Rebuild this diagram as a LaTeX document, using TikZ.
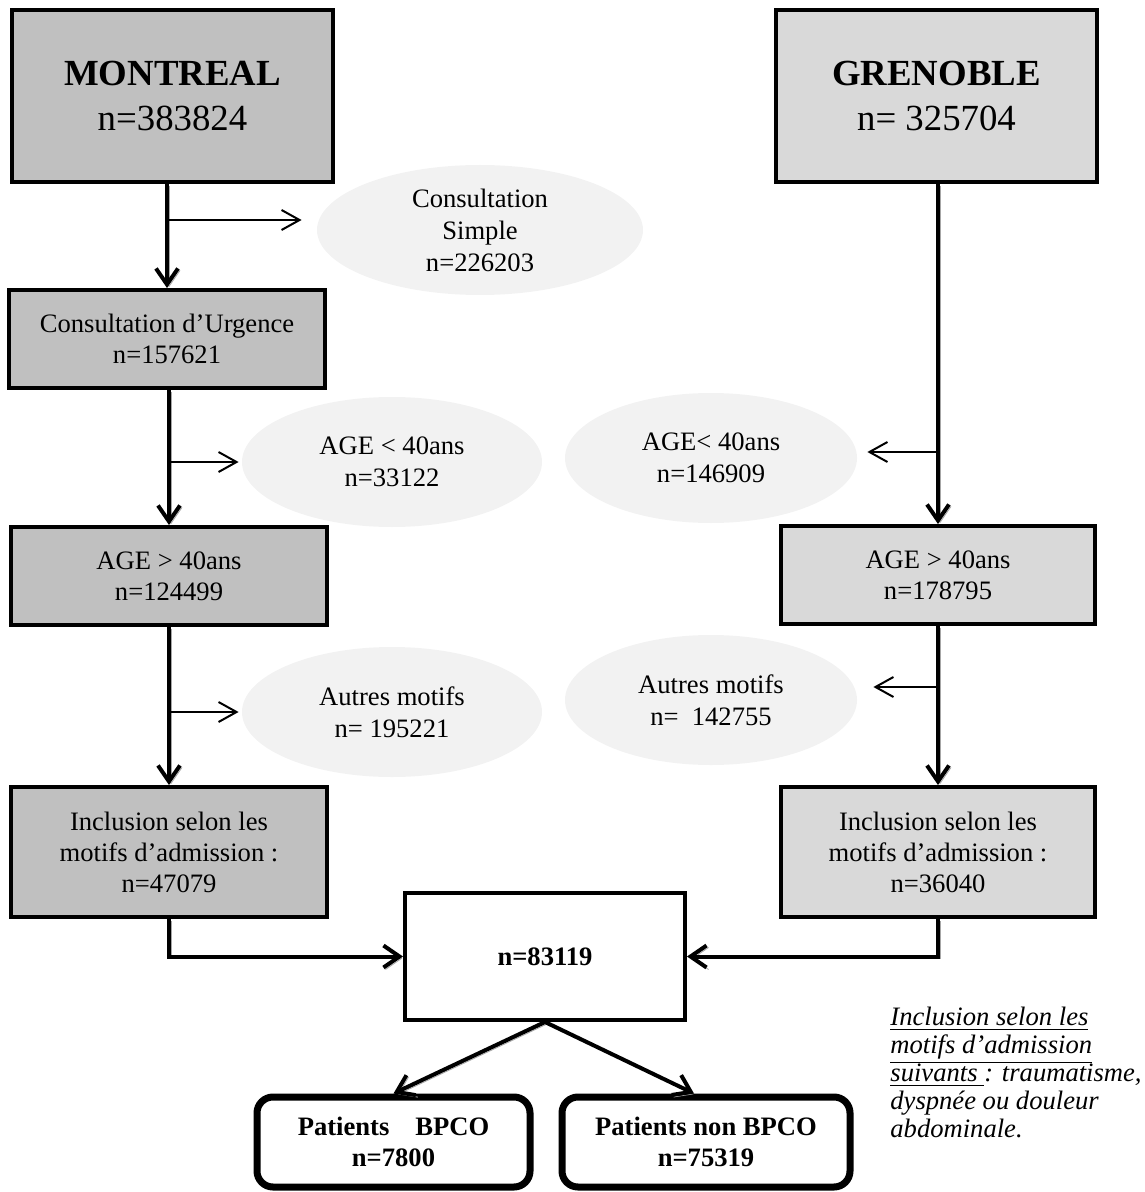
\documentclass[tikz,border=0pt]{standalone}
\usepackage{fontspec}
\setmainfont{Liberation Serif}
\usetikzlibrary{shapes.geometric,arrows.meta}

\definecolor{mtlgray}{HTML}{C0C0C0}
\definecolor{gregray}{HTML}{D9D9D9}
\definecolor{exclgray}{HTML}{F2F2F2}
\definecolor{shadowgray}{HTML}{A6A6A6}

\tikzset{
  citybox/.style={draw, line width=2pt, minimum width=160.5pt, minimum height=86pt, inner sep=0pt, align=center, font=\fontsize{18.4pt}{22pt}\selectfont},
  stepbox/.style={draw, line width=2pt, minimum width=158pt, minimum height=49pt, inner sep=0pt, align=center, font=\fontsize{13.3pt}{15.5pt}\selectfont},
  exclusion/.style={ellipse, fill=exclgray, minimum width=148pt, minimum height=65pt, inner sep=0pt, align=center, font=\fontsize{13.3pt}{16pt}\selectfont},
  totalbox/.style={draw, line width=2pt, fill=white, minimum width=140pt, minimum height=63.5pt, inner sep=0pt, font=\bfseries\fontsize{13.3pt}{15.5pt}\selectfont},
  result/.style={draw, line width=3.5pt, rounded corners=8pt, minimum height=45pt, inner sep=0pt, align=center, font=\bfseries\fontsize{13.3pt}{15.5pt}\selectfont},
  mainarrow/.style={line width=2pt, -{Straight Barb[length=8pt,width=11pt]}, preaction={draw=shadowgray, transform canvas={shift={(1pt,-1pt)}}}},
  sidearrow/.style={line width=1pt, -{Straight Barb[length=9pt,width=10pt]}}
}

\begin{document}
\begin{tikzpicture}[x=0.5pt, y=-0.5pt]
    \useasboundingbox (0, 0) rectangle (1144, 1192);
    \node [citybox, fill=mtlgray] (mtl) at (172.5, 96) {\textbf{MONTREAL}\\n=383824};
    \node [citybox, fill=gregray] (gre) at (936.5, 96) {\textbf{GRENOBLE}\\n= 325704};
    \node [stepbox, fill=mtlgray] (urgM) at (167, 339) {Consultation d’Urgence\\n=157621};
    \node [stepbox, fill=mtlgray] (ageM) at (169, 576) {AGE > 40ans\\n=124499};
    \node [stepbox, fill=mtlgray, minimum height=65pt] (inclM) at (169, 852) {Inclusion selon les\\motifs d’admission :\\n=47079};
    \node [stepbox, fill=gregray, minimum width=157pt] (ageG) at (938, 575) {AGE > 40ans\\n=178795};
    \node [stepbox, fill=gregray, minimum width=157pt, minimum height=65pt] (inclG) at (938, 852) {Inclusion selon les\\motifs d’admission :\\n=36040};
    \node [exclusion, minimum width=163pt] (simple) at (480, 230) {Consultation\\Simple\\n=226203};
    \node [exclusion, minimum width=150pt] (jeuneM) at (392, 462) {AGE < 40ans\\n=33122};
    \node [exclusion, minimum width=150pt] (autresM) at (392, 712) {Autres motifs\\n= 195221};
    \node [exclusion, minimum width=146pt] (jeuneG) at (711, 458) {AGE< 40ans\\n=146909};
    \node [exclusion, minimum width=146pt] (autresG) at (711, 700) {Autres motifs\\n=\ \ 142755};
    \node [totalbox] (total) at (545, 956.5) {n=83119};
    \node [result, minimum width=136.5pt] (bpco) at (393.5, 1142) {Patients\hspace{13pt}BPCO\\n=7800};
    \node [result, minimum width=144pt] (nonbpco) at (706, 1142) {Patients non BPCO\\n=75319};
    \node [anchor=north west, inner sep=0pt, align=left, font=\itshape\fontsize{13.3pt}{14pt}\selectfont] (note) at (890, 1007)
        {\underline{Inclusion selon les}\\\underline{motifs d’admission}\\\underline{suivants\ }: traumatisme,\\dyspnée ou douleur\\abdominale.};
    \draw [mainarrow] (urgM.north |- mtl.south) -- (urgM.north);
    \draw [mainarrow] (ageM.north |- urgM.south) -- (ageM.north);
    \draw [mainarrow] (inclM.north |- ageM.south) -- (inclM.north);
    \draw [mainarrow] (ageG.north |- gre.south) -- (ageG.north);
    \draw [mainarrow] (inclG.north |- ageG.south) -- (inclG.north);
    \draw [sidearrow] ([yshift=5pt]urgM.north |- simple.west) -- ([xshift=-7.5pt, yshift=5pt]simple.west);
    \draw [sidearrow] (ageM.north |- jeuneM.west) -- ([xshift=-1.5pt]jeuneM.west);
    \draw [sidearrow] (inclM.north |- autresM.west) -- ([xshift=-1.5pt]autresM.west);
    \draw [sidearrow] ([yshift=3pt]ageG.north |- jeuneG.east) -- ([xshift=5pt, yshift=3pt]jeuneG.east);
    \draw [sidearrow] ([yshift=6.5pt]inclG.north |- autresG.east) -- ([xshift=8pt, yshift=6.5pt]autresG.east);
    \draw [mainarrow] (inclM.south) |- (total.west);
    \draw [mainarrow] (inclG.south) |- (total.east);
    \draw [mainarrow] (total.south) -- (bpco.north);
    \draw [mainarrow] (total.south) -- ([xshift=-6pt]nonbpco.north);
\end{tikzpicture}
\end{document}
